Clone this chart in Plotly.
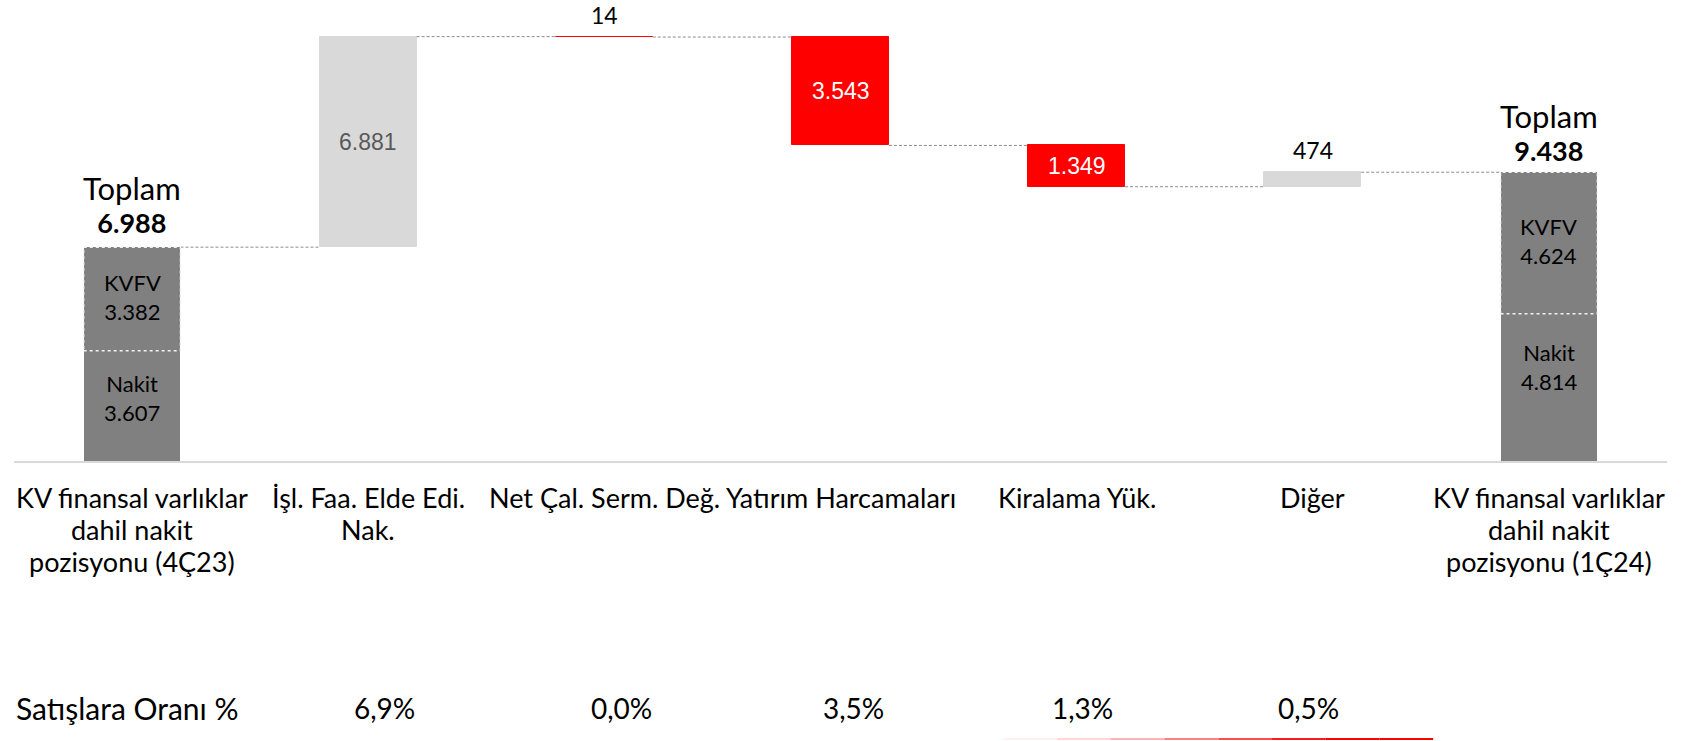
import plotly.graph_objects as go

# ---------------- data ----------------
categories = [
    "KV finansal varlıklar\ndahil nakit\npozisyonu (4Ç23)",
    "İşl. Faa. Elde Edi.\nNak.",
    "Net Çal. Serm. Değ.",
    "Yatırım Harcamaları",
    "Kiralama Yük.",
    "Diğer",
    "KV finansal varlıklar\ndahil nakit\npozisyonu (1Ç24)",
]
start_nakit = 3607
start_kvfv = 3382
start_total = 6988
changes = [6881, -14, -3543, -1349, 474]
end_nakit = 4814
end_kvfv = 4624
end_total = 9438
ratio_title = "Satışlara Oranı %"
ratios = ["6,9%", "0,0%", "3,5%", "1,3%", "0,5%"]

# ---------------- style ----------------
GEO = "Lato"
ARIAL = "Liberation Sans"
DARK = "#808080"
LIGHT = "#D9D9D9"
RED = "#FF0000"
BW = 0.41
PX_PER_UNIT = 0.0306
PLOT_H = 461
YMAX = PLOT_H / PX_PER_UNIT
RATIO_XSHIFT = [16, 17, 13, 6, -4]   # table columns are not exactly under the bars


def fmt(v):
    return f"{abs(v):,}".replace(",", ".")


n = len(categories)
xs = list(range(n))

fig = go.Figure()

# stacked totals (first & last)
tot_x = [0, n - 1]
nakit_vals = [start_nakit, end_nakit]
kvfv_vals = [start_kvfv, end_kvfv]
fig.add_trace(go.Bar(x=tot_x, y=nakit_vals, width=BW, marker_color=DARK,
                     marker_line_width=0, hoverinfo="skip", showlegend=False))
fig.add_trace(go.Bar(x=tot_x, y=kvfv_vals, base=nakit_vals, width=BW, marker_color=DARK,
                     marker_line_width=0, hoverinfo="skip", showlegend=False))

# change bars
levels = [start_total]
bases, heights, colors = [], [], []
for v in changes:
    prev = levels[-1]
    if v >= 0:
        bases.append(prev)
        heights.append(v)
        colors.append(LIGHT)
    else:
        bases.append(prev + v)
        heights.append(-v)
        colors.append(RED)
    levels.append(prev + v)
chg_x = xs[1:n - 1]
fig.add_trace(go.Bar(x=chg_x, y=heights, base=bases, width=BW, marker_color=colors,
                     marker_line_color=colors, marker_line_width=1,
                     hoverinfo="skip", showlegend=False))

# connectors
cx, cy = [], []
for i in range(n - 1):
    lvl = levels[i]
    cx += [i + BW / 2, i + 1 - BW / 2, None]
    cy += [lvl, lvl, None]
fig.add_trace(go.Scatter(x=cx, y=cy, mode="lines",
                         line=dict(color="#8C8C8C", width=1, dash="3px,2px"),
                         hoverinfo="skip", showlegend=False))

annotations = []
shapes = []

# dotted white border around KVFV segments
for xi, nk, kv in zip(tot_x, nakit_vals, kvfv_vals):
    shapes.append(dict(type="rect", xref="x", yref="y",
                       x0=xi - BW / 2, x1=xi + BW / 2, y0=nk, y1=nk + kv,
                       line=dict(color="#F2F2F2", width=1.5, dash="dot")))

# labels inside stacked bars
for j, (xi, nk, kv) in enumerate(zip(tot_x, nakit_vals, kvfv_vals)):
    annotations.append(dict(x=xi, y=nk + kv / 2, xref="x", yref="y",
                            text=f"KVFV<br>{fmt(kv)}", showarrow=False,
                            font=dict(family=GEO, size=22, color="#000"),
                            yshift=2))
    annotations.append(dict(x=xi, y=nk / 2, xref="x", yref="y",
                            text=f"Nakit<br>{fmt(nk)}", showarrow=False,
                            font=dict(family=GEO, size=22, color="#000"),
                            yshift=8 if j == 0 else 20))

# Toplam labels
for xi, tot, ysh in [(0, start_total, 6), (n - 1, end_total, 3)]:
    annotations.append(dict(x=xi, y=tot, xref="x", yref="y",
                            text=(f"<span style='font-size:31px'>Toplam</span><br>"
                                  f"<span style='font-size:27px'><b>{fmt(tot)}</b></span>"),
                            showarrow=False, yanchor="bottom", yshift=ysh,
                            font=dict(family=GEO, size=25, color="#000")))

# change labels
for xi, v, b, h in zip(chg_x, changes, bases, heights):
    if h < 1000:
        annotations.append(dict(x=xi, y=b + h, xref="x", yref="y", text=fmt(v),
                                showarrow=False, yanchor="bottom", yshift=6,
                                font=dict(family=GEO, size=23, color="#000")))
    else:
        col = "#595959" if v > 0 else "#FFFFFF"
        annotations.append(dict(x=xi, y=b + h / 2, xref="x", yref="y", text=fmt(v),
                                showarrow=False,
                                font=dict(family=ARIAL, size=23, color=col)))

# category labels (one annotation per line)
for i, cat in enumerate(categories):
    for k, line in enumerate(cat.split("\n")):
        annotations.append(dict(x=i, y=0, xref="x", yref="paper", text=line,
                                showarrow=False, yanchor="middle",
                                yshift=-(36 + 32 * k),
                                font=dict(family=GEO, size=27, color="#000")))

# ratio row
annotations.append(dict(x=0, y=0, xref="paper", yref="paper", text=ratio_title,
                        showarrow=False, xanchor="left", yanchor="middle",
                        xshift=0, yshift=-247,
                        font=dict(family=GEO, size=30, color="#000")))
for xi, r, sh in zip(chg_x, ratios, RATIO_XSHIFT):
    annotations.append(dict(x=xi, y=0, xref="x", yref="paper", text=r,
                            showarrow=False, yanchor="middle", yshift=-247,
                            xshift=sh,
                            font=dict(family=GEO, size=28, color="#000")))

# decorative red line at the bottom (fading to the left)
seg_cols = ["#FFF0F0", "#FFD6D6", "#FFB3B3", "#FF8080", "#FF4D4D", "#FF1A1A", RED, RED]
x_start, x_end = 3.69, 5.51
step = (x_end - x_start) / len(seg_cols)
for k, c in enumerate(seg_cols):
    shapes.append(dict(type="line", xref="x", yref="paper",
                       x0=x_start + k * step, x1=x_start + (k + 1) * step,
                       y0=-278 / PLOT_H, y1=-278 / PLOT_H,
                       line=dict(color=c, width=2)))

fig.update_layout(
    width=1682, height=741,
    margin=dict(l=14, r=15, t=0, b=280),
    paper_bgcolor="white", plot_bgcolor="white",
    barmode="overlay", bargap=0,
    showlegend=False,
    xaxis=dict(range=[-0.5, n - 0.5], showticklabels=False, showgrid=False,
               zeroline=False, showline=True, linecolor=LIGHT, linewidth=2,
               fixedrange=True),
    yaxis=dict(range=[0, YMAX], visible=False, fixedrange=True),
    annotations=annotations,
    shapes=shapes,
)

fig.write_html(
    "out.html",
    config={"displayModeBar": False},
    post_script="document.body.style.margin='0px';document.body.style.overflow='hidden';",
)
